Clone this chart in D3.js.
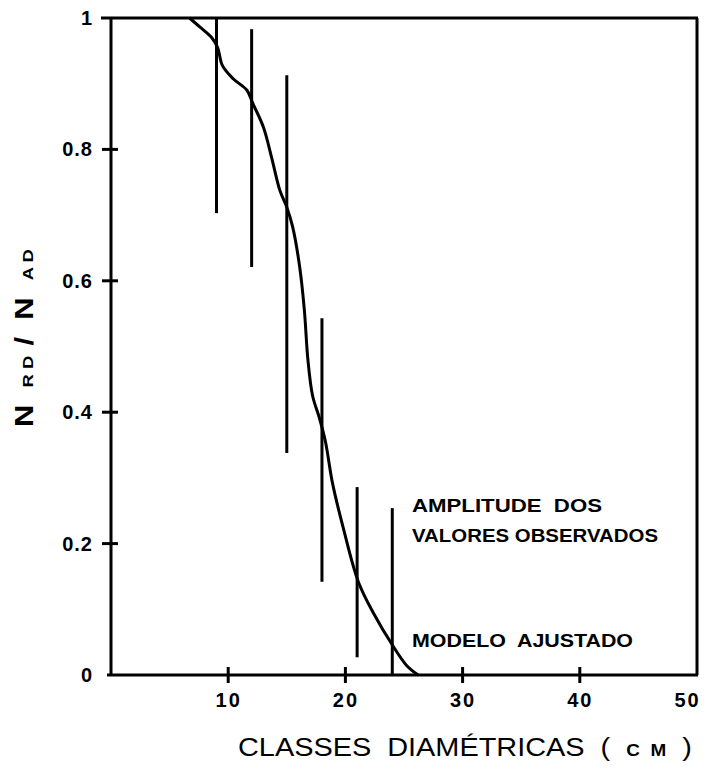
<!DOCTYPE html>
<html>
<head>
<meta charset="utf-8">
<script src="https://cdn.jsdelivr.net/npm/d3@7"></script>
<style>
  html, body { margin: 0; padding: 0; background: #fff; }
  svg { display: block; }
  text { font-family: "Liberation Sans", Arial, sans-serif; fill: #000; white-space: pre; }
</style>
</head>
<body>
<svg id="chart" width="705" height="769"></svg>
<script>
// ---- data ----
const classes = [9, 12, 15, 18, 21, 24];
const obsMax  = [1.0, 0.983, 0.913, 0.543, 0.286, 0.254];
const obsMin  = [0.703, 0.621, 0.338, 0.142, 0.027, 0.0];

const modelX = [6.7, 7.6, 8.6, 9.1, 9.5, 10.4, 11.6, 12.1, 13.0, 13.7, 14.4, 15.0, 15.5, 16.1, 16.5, 16.8, 17.2, 17.8, 18.3, 18.9, 19.8, 21.1, 22.4, 24.1, 25.2, 26.2];
const modelY = [1.0, 0.986, 0.97, 0.955, 0.928, 0.908, 0.89, 0.87, 0.834, 0.788, 0.738, 0.712, 0.682, 0.621, 0.555, 0.48, 0.425, 0.39, 0.355, 0.292, 0.225, 0.142, 0.094, 0.043, 0.015, 0.0];

const xTicks = [10, 20, 30, 40, 50];
const xTickLabels = ["10", "20", "30", "40", "50"];
const yTicks = [0, 0.2, 0.4, 0.6, 0.8, 1];
const yTickLabels = ["0", "0.2", "0.4", "0.6", "0.8", "1"];

const noteObserved = ["AMPLITUDE  DOS", "VALORES OBSERVADOS"];
const noteModel = "MODELO  AJUSTADO";

// ---- layout ----
const svg = d3.select("#chart");
const x = d3.scaleLinear().domain([0, 50]).range([111, 697]);
const y = d3.scaleLinear().domain([0, 1]).range([675, 18]);
const SW = 3;

// frame lines (left, top, right, bottom)
svg.append("line").attr("x1", x(0)).attr("x2", x(0)).attr("y1", y(1)).attr("y2", y(0))
  .attr("stroke", "#000").attr("stroke-width", SW);
svg.append("line").attr("x1", x(0) - 10).attr("x2", x(50) + 1).attr("y1", y(1)).attr("y2", y(1))
  .attr("stroke", "#000").attr("stroke-width", SW);
svg.append("line").attr("x1", x(50)).attr("x2", x(50)).attr("y1", y(1)).attr("y2", y(0))
  .attr("stroke", "#000").attr("stroke-width", SW);
svg.append("line").attr("x1", x(0) - 4).attr("x2", x(50) + 1).attr("y1", y(0)).attr("y2", y(0))
  .attr("stroke", "#000").attr("stroke-width", SW);

// left axis (labels)
const yAxis = svg.append("g").attr("transform", `translate(${x(0)},0)`)
  .call(d3.axisLeft(y).tickValues(yTicks).tickSize(7).tickPadding(11)
    .tickFormat((d, i) => yTickLabels[i]));
yAxis.select(".domain").remove();
yAxis.selectAll(".tick line").remove();
yAxis.selectAll(".tick text")
  .style("font-size", "20px").style("font-weight", "bold")
  .style("letter-spacing", "1px").style("font-family", "Liberation Sans, Arial, sans-serif");

// bottom axis (labels)
const xAxis = svg.append("g").attr("transform", `translate(0,${y(0)})`)
  .call(d3.axisBottom(x).tickValues(xTicks).tickSize(7).tickPadding(11)
    .tickFormat((d, i) => xTickLabels[i]));
xAxis.select(".domain").remove();
xAxis.selectAll(".tick line").remove();
xAxis.selectAll(".tick text")
  .style("font-size", "20px").style("font-weight", "bold")
  .style("letter-spacing", "2px").style("font-family", "Liberation Sans, Arial, sans-serif")
  .attr("dx", d => d === 50 ? -10 : 0);

// crossing tick marks
svg.append("g").selectAll("line").data(yTicks.filter(d => d > 0 && d < 1)).join("line")
  .attr("x1", x(0) - 9).attr("x2", x(0) + 7)
  .attr("y1", d => y(d)).attr("y2", d => y(d))
  .attr("stroke", "#000").attr("stroke-width", 3);
svg.append("g").selectAll("line").data(xTicks.filter(d => d < 50)).join("line")
  .attr("x1", d => x(d)).attr("x2", d => x(d))
  .attr("y1", y(0) - 8).attr("y2", y(0) + 8)
  .attr("stroke", "#000").attr("stroke-width", 3);

// observed ranges
svg.append("g").selectAll("line").data(classes).join("line")
  .attr("x1", d => x(d)).attr("x2", d => x(d))
  .attr("y1", (d, i) => y(obsMax[i])).attr("y2", (d, i) => y(obsMin[i]))
  .attr("stroke", "#000").attr("stroke-width", SW);

// fitted model
const pts = modelX.map((v, i) => [v, modelY[i]]);
svg.append("path").datum(pts)
  .attr("d", d3.line().x(d => x(d[0])).y(d => y(d[1])).curve(d3.curveCatmullRom.alpha(0.5)))
  .attr("fill", "none").attr("stroke", "#000").attr("stroke-width", SW);

// annotations
const noteG = svg.append("g").attr("font-weight", "bold").attr("font-size", 19);
noteG.append("text").attr("x", 412).attr("y", 512).text(noteObserved[0])
  .attr("textLength", 190).attr("lengthAdjust", "spacingAndGlyphs");
noteG.append("text").attr("x", 412).attr("y", 542).text(noteObserved[1])
  .attr("textLength", 246).attr("lengthAdjust", "spacingAndGlyphs");
noteG.append("text").attr("x", 412).attr("y", 647).text(noteModel)
  .attr("textLength", 221).attr("lengthAdjust", "spacingAndGlyphs");

// x-axis title
const xt = svg.append("text").attr("x", 238).attr("y", 756).attr("font-size", 26);
xt.append("tspan").text("CLASSES  DIAMÉTRICAS  (  ");
xt.append("tspan").attr("font-size", 17).attr("font-weight", "bold").text("C  M");
xt.append("tspan").text("  )");
const xtw = xt.node().getComputedTextLength();
xt.attr("transform", `translate(238,0) scale(${454 / xtw},1) translate(-238,0)`);

// y-axis title
const yt = svg.append("text").attr("transform", "translate(33,427) rotate(-90)")
  .attr("font-weight", "bold").attr("font-size", 25);
yt.append("tspan").text("N  ");
yt.append("tspan").attr("font-size", 15).text("R D  ");
yt.append("tspan").text("/  N  ");
yt.append("tspan").attr("font-size", 15).text("A D");
const ytw = yt.node().getComputedTextLength();
yt.attr("transform", `translate(33,427) rotate(-90) scale(${178 / ytw},1)`);
</script>
</body>
</html>
